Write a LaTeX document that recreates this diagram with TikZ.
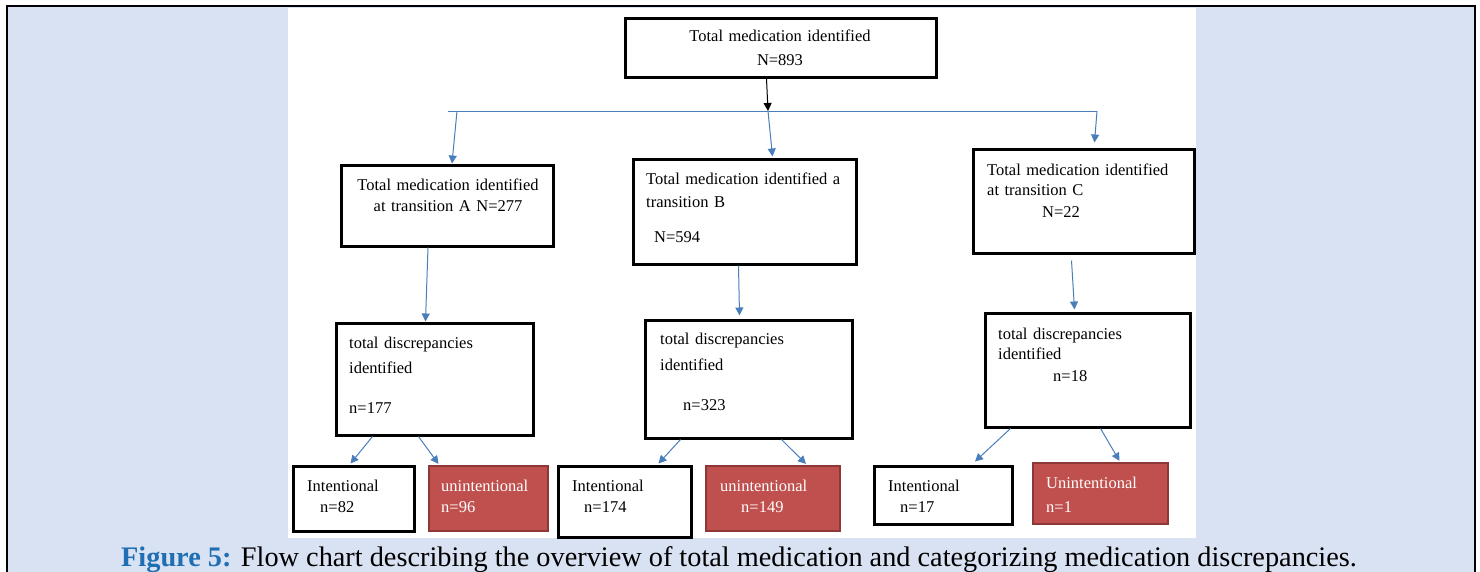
\documentclass[tikz,border=0pt]{standalone}
\usepackage{fontspec}
\setmainfont{Liberation Serif}
\usetikzlibrary{arrows.meta}
\definecolor{pageBlue}{RGB}{217,226,242}
\definecolor{arrowBlue}{RGB}{74,126,187}
\definecolor{redFill}{RGB}{192,80,77}
\definecolor{redLine}{RGB}{140,56,54}
\definecolor{captionBlue}{RGB}{31,111,180}
\tikzset{%
  >={Triangle[width=8pt,length=8pt]},
  % Specifications for style of boxes and texts:
          base/.style = {rectangle, draw=black, line width=3pt,
                         fill=white, inner sep=0pt},
  unintentBox/.style = {base, draw=redLine, line width=2.2pt, fill=redFill},
      boxText/.style = {anchor=base west, text width=210pt, align=left,
                        inner sep=0pt, font=\fontsize{16.5}{20}\selectfont},
   centerText/.style = {boxText, anchor=base, align=center},
         link/.style = {->, draw=arrowBlue, line width=1pt},
}
\begin{document}
\begin{tikzpicture}[x=1pt, y=-1pt]
  \useasboundingbox (0,0) rectangle (1480,571);
  % page, frame and white panel
  \fill[white] (0,0) rectangle (1480,571);
  \fill[pageBlue] (7,6) rectangle (1475,580);
  \draw[line width=2.5pt] (7,590) -- (7,6) -- (1475,6) -- (1475,590);
  \fill[white] (288,8) rectangle (1196,538);

  % Specification of boxes (position, size)
  \node (total)     [base, minimum width=311pt, minimum height=59pt]  at (780.5,47.5) {};
  \node (transA)    [base, minimum width=212pt, minimum height=81pt]  at (447,205.5) {};
  \node (transB)    [base, minimum width=223pt, minimum height=105pt] at (744.5,211.5) {};
  \node (transC)    [base, minimum width=221pt, minimum height=104pt] at (1083.5,201) {};
  \node (discA)     [base, minimum width=197pt, minimum height=112pt] at (434.5,379) {};
  \node (discB)     [base, minimum width=207pt, minimum height=118pt] at (748.5,379) {};
  \node (discC)     [base, minimum width=205pt, minimum height=114pt] at (1087.5,370) {};
  \node (intentA)   [base, minimum width=121pt, minimum height=65pt]  at (353.5,498.5) {};
  \node (unintentA) [unintentBox, minimum width=119pt, minimum height=65pt] at (488.5,498.5) {};
  \node (intentB)   [base, minimum width=133pt, minimum height=71pt]  at (624.5,501.5) {};
  \node (unintentB) [unintentBox, minimum width=134pt, minimum height=65pt] at (773,498.5) {};
  \node (intentC)   [base, minimum width=138pt, minimum height=58pt]  at (943,495) {};
  \node (unintentC) [unintentBox, minimum width=135pt, minimum height=61pt] at (1100.5,493.5) {};

  % texts of the boxes
  \node (totalText)  [centerText] at (780,41) {Total medication identified\\[4pt]N=893};
  \node (transAText) [centerText] at (448,190) {Total medication identified\\[1pt]at transition A N=277};
  \node (transBText) [boxText] at (646,184) {Total medication identified a\\[3pt]transition B\\[15pt]\hspace*{8pt}N=594};
  \node (transCText) [boxText] at (987,175) {Total medication identified\\at transition C\\[2pt]\hspace*{55pt}N=22};
  \node (discAText)  [boxText] at (349,348) {total discrepancies\\[5pt]identified\\[20pt]n=177};
  \node (discBText)  [boxText] at (660,344) {total discrepancies\\[6pt]identified\\[20pt]\hspace*{23pt}n=323};
  \node (discCText)  [boxText] at (998,339) {total discrepancies\\identified\\[2pt]\hspace*{55pt}n=18};
  \node (intentAText)   [boxText] at (307,491) {Intentional\\[1pt]\hspace*{13pt}n=82};
  \node (unintentAText) [boxText, text=white] at (441,491) {unintentional\\[1pt]n=96};
  \node (intentBText)   [boxText] at (572,491) {Intentional\\[1pt]\hspace*{12pt}n=174};
  \node (unintentBText) [boxText, text=white] at (720,491) {unintentional\\[1pt]\hspace*{21pt}n=149};
  \node (intentCText)   [boxText] at (888,491) {Intentional\\[1pt]\hspace*{12pt}n=17};
  \node (unintentCText) [boxText, text=white] at (1046,488) {Unintentional\\[4pt]n=1};

  \node (caption) [anchor=base west, inner sep=0pt, font=\fontsize{28.3}{30}\selectfont]
    at (121,566) {\textcolor{captionBlue}{\textbf{Figure 5:}} Flow chart describing the overview of total medication and categorizing medication discrepancies.};

  % Specification of lines between boxes
  \coordinate (split)  at (768,111);
  \coordinate (splitL) at (457,111);
  \coordinate (splitR) at (1097,111);
  \draw[->, line width=1pt] ([xshift=-14pt]total.south) -- (split);
  \draw[draw=arrowBlue, line width=1pt] (448,111) -- (splitR);
  \draw[link] (splitL) -- ([xshift=5pt]transA.north);
  \draw[link] (split)  -- ([xshift=28pt, yshift=1pt]transB.north);
  \draw[link] (splitR) -- ([xshift=11pt, yshift=5pt]transC.north);
  \draw[link] ([xshift=-19pt]transA.south) -- ([xshift=-9pt]discA.north);
  \draw[link] ([xshift=-6pt]transB.south)  -- ([xshift=-9pt, yshift=3pt]discB.north);
  \draw[link] ([xshift=-12pt, yshift=-6pt]transC.south) -- ([xshift=-13pt, yshift=2pt]discC.north);
  \draw[link] ([xshift=-62pt]discA.south)  -- ([xshift=-3pt, yshift=1pt]intentA.north);
  \draw[link] ([xshift=-16pt]discA.south)  -- ([xshift=-50pt, yshift=1pt]unintentA.north);
  \draw[link] ([xshift=-68pt]discB.south)  -- ([xshift=34pt, yshift=1pt]intentB.north);
  \draw[link] ([xshift=33pt]discB.south)   -- ([xshift=33pt, yshift=1pt]unintentB.north);
  \draw[link] ([xshift=-77pt]discC.south)  -- ([xshift=32pt, yshift=3pt]intentC.north);
  \draw[link] ([xshift=13pt]discC.south)   -- ([xshift=19pt, yshift=1pt]unintentC.north);
\end{tikzpicture}
\end{document}
